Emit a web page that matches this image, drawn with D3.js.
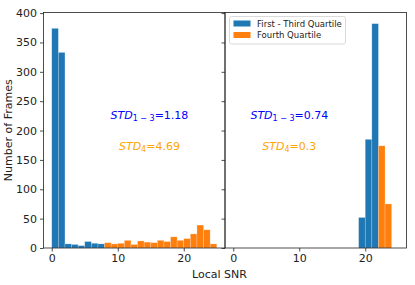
<!DOCTYPE html>
<html>
<head>
<meta charset="utf-8">
<script src="https://cdn.jsdelivr.net/npm/d3@7"></script>
<style>
  body { margin: 0; background: white; }
  text { font-family: "DejaVu Sans", sans-serif; fill: #222; }
</style>
</head>
<body>
<script>
// histograms of local snr per frame, two panels with a shared y axis

// counts per bin (bin width 1), first bin start given next to each list
var leftQ13 = [374, 333, 7, 6, 4, 11, 8, 7];
var leftQ13Start = 0;
var leftQ4 = [9, 7, 8, 13, 6, 12, 10, 9, 13, 11, 19, 13, 16, 24, 39, 31, 7];
var leftQ4Start = 8;
var rightQ13 = [52, 185, 382];
var rightQ13Start = 19;
var rightQ4 = [174, 75];
var rightQ4Start = 22;

var xTicks = [0, 10, 20];
var yTicks = [0, 50, 100, 150, 200, 250, 300, 350, 400];
var legendNames = ["First - Third Quartile", "Fourth Quartile"];
var stdLeft = ["1.18", "4.69"];
var stdRight = ["0.74", "0.3"];

// dimensions chart
var width = 415;
var height = 285;
var top_ = 12.5;
var bottom = 248;
var panelWidth = 181.5;
var lefts = [43.5, 225];

var blue = "#1f77b4";
var orange = "#ff7f0e";

var svg = d3.select("body")
  .append("svg")
  .attr("width", width)
  .attr("height", height);

var yScale = d3.scaleLinear()
  .domain([0, 401])
  .range([bottom, top_]);

function toBins(counts, start) {
  return counts.map(function(c, i) { return {x0: start + i, x1: start + i + 1, n: c}; });
}

var panels = [
  {q13: toBins(leftQ13, leftQ13Start), q4: toBins(leftQ4, leftQ4Start), std: stdLeft, labels: true},
  {q13: toBins(rightQ13, rightQ13Start), q4: toBins(rightQ4, rightQ4Start), std: stdRight, labels: false}
];

panels.forEach(function(p, k) {
  var x0 = lefts[k];
  var xScale = d3.scaleLinear()
    .domain([-1.25, 26.25])
    .range([x0, x0 + panelWidth]);

  var g = svg.append("g");

  // bars
  [[p.q13, blue], [p.q4, orange]].forEach(function(s) {
    g.selectAll(null)
      .data(s[0])
      .enter()
      .append("rect")
      .attr("x", function(d) { return xScale(d.x0); })
      .attr("y", function(d) { return yScale(d.n); })
      .attr("width", function(d) { return xScale(d.x1) - xScale(d.x0); })
      .attr("height", function(d) { return yScale(0) - yScale(d.n); })
      .attr("fill", s[1])
      .attr("stroke", "white")
      .attr("stroke-opacity", 0.35)
      .attr("stroke-width", 0.6);
  });

  // x axis
  var xAxis = d3.axisBottom(xScale).tickValues(xTicks).tickSize(3.5).tickPadding(3);
  var xa = g.append("g")
    .attr("transform", "translate(0," + bottom + ")")
    .call(xAxis);
  xa.select(".domain").remove();
  xa.selectAll("text").style("font-size", "11px").attr("fill", "#222");
  xa.selectAll("line").attr("stroke", "#222").attr("stroke-width", 0.8);

  // y axis
  var yAxis = d3.axisLeft(yScale).tickValues(yTicks).tickSize(3.5).tickPadding(3);
  var ya = g.append("g")
    .attr("transform", "translate(" + x0 + ",0)")
    .call(yAxis);
  ya.select(".domain").remove();
  ya.selectAll("line").attr("stroke", "#222").attr("stroke-width", 0.8);
  if (p.labels) {
    ya.selectAll("text").style("font-size", "11px").attr("fill", "#222");
  } else {
    ya.selectAll("text").remove();
  }

  // frame
  g.append("rect")
    .attr("x", x0)
    .attr("y", top_)
    .attr("width", panelWidth)
    .attr("height", bottom - top_)
    .attr("fill", "none")
    .attr("stroke", "#222")
    .attr("stroke-width", 0.8);

  // std annotations
  var cx = k === 0 ? 14.8 : 8.5;
  var t1 = g.append("text")
    .attr("x", xScale(cx))
    .attr("y", 118.5)
    .attr("text-anchor", "middle")
    .style("font-size", "11px")
    .attr("fill", "#0000ff");
  t1.append("tspan").style("font-style", "italic").attr("fill", "#0000ff").text("STD");
  t1.append("tspan").attr("dy", 2.5).style("font-size", "8px").attr("fill", "#0000ff").text("1 \u2212 3");
  t1.append("tspan").attr("dy", -2.5).attr("fill", "#0000ff").text("=" + p.std[0]);

  var t2 = g.append("text")
    .attr("x", xScale(cx))
    .attr("y", 149.5)
    .attr("text-anchor", "middle")
    .style("font-size", "11px")
    .attr("fill", "#ffa500");
  t2.append("tspan").style("font-style", "italic").attr("fill", "#ffa500").text("STD");
  t2.append("tspan").attr("dy", 2.5).style("font-size", "8px").attr("fill", "#ffa500").text("4");
  t2.append("tspan").attr("dy", -2.5).attr("fill", "#ffa500").text("=" + p.std[1]);
});

// legend in the right panel
var legend = svg.append("g").attr("transform", "translate(229.5,16.5)");
legend.append("rect")
  .attr("width", 116)
  .attr("height", 27.5)
  .attr("rx", 2)
  .attr("fill", "white")
  .attr("fill-opacity", 0.8)
  .attr("stroke", "#d0d0d0")
  .attr("stroke-width", 0.8);

legend.selectAll(".item")
  .data(legendNames)
  .enter()
  .append("g")
  .attr("class", "item")
  .attr("transform", function(d, i) { return "translate(0," + i * 11.5 + ")"; })
  .each(function(d, i) {
    var it = d3.select(this);
    it.append("rect")
      .attr("x", 4)
      .attr("y", 4)
      .attr("width", 17)
      .attr("height", 6)
      .attr("fill", i === 0 ? blue : orange);
    it.append("text")
      .attr("x", 27.5)
      .attr("y", 10.3)
      .style("font-size", "8.5px")
      .text(d);
  });

// axis labels
svg.append("text")
  .attr("x", 219.5)
  .attr("y", 277.5)
  .attr("text-anchor", "middle")
  .style("font-size", "11px")
  .text("Local SNR");

svg.append("text")
  .attr("text-anchor", "middle")
  .attr("transform", "translate(11.5," + (top_ + bottom) / 2 + ") rotate(-90)")
  .style("font-size", "11px")
  .text("Number of Frames");
</script>
</body>
</html>
